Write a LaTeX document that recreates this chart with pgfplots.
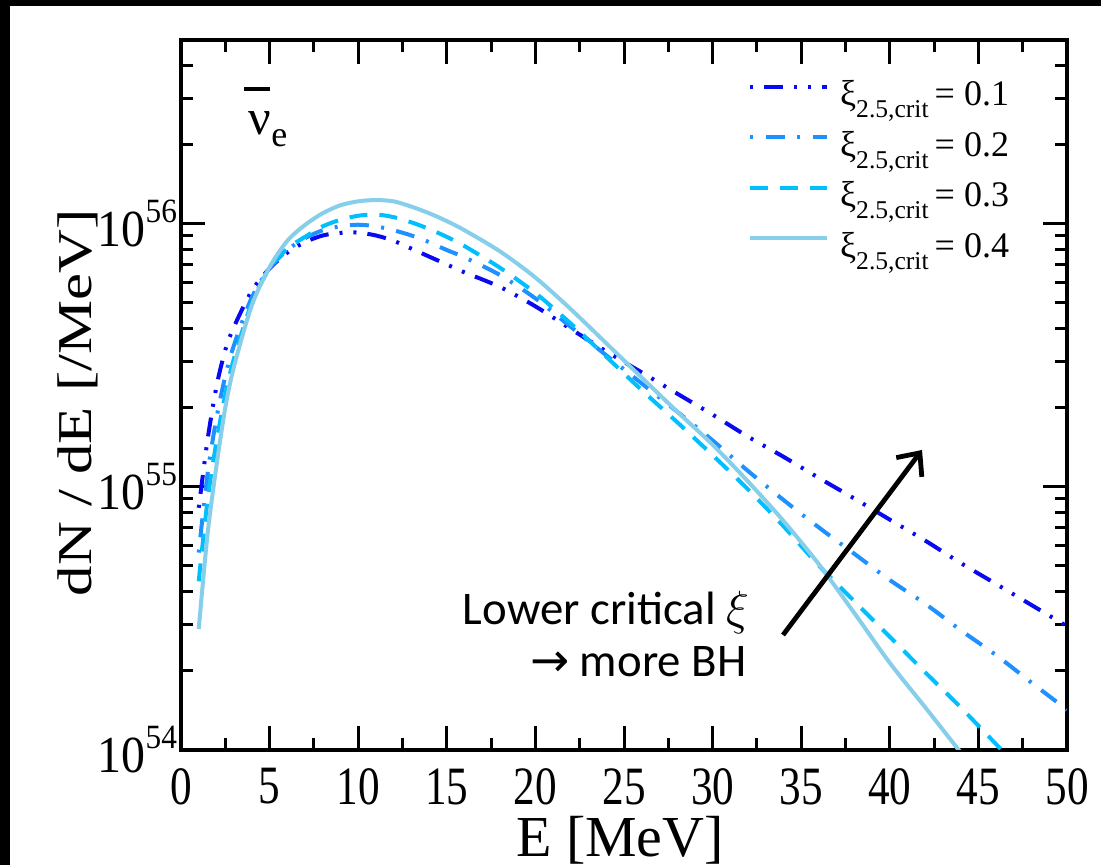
\documentclass[border=0pt]{standalone}
\usepackage{fontspec}
\setmainfont{Liberation Serif}
\newfontfamily\calibri{Carlito}
\newfontfamily\djv{DejaVu Sans}
\usepackage{graphicx}
\usepackage{pgfplots}
\pgfplotsset{compat=1.18}
\usetikzlibrary{arrows.meta}

\definecolor{c1}{RGB}{10,10,240}
\definecolor{c2}{RGB}{30,144,255}
\definecolor{c3}{RGB}{0,191,255}
\definecolor{c4}{RGB}{135,206,235}

\newcommand{\sx}[1]{\scalebox{0.8}[1]{#1}}
\newcommand{\yl}[1]{\scalebox{0.92}[1]{10\raisebox{6pt}{\fontsize{8.5}{8.5}\selectfont #1}}}
\newcommand{\lt}[1]{ξ\raisebox{-3pt}{\fontsize{6.4}{6.4}\selectfont 2.5,crit}\,= #1}

\begin{document}
\begin{tikzpicture}
\fill[black] (0,0) rectangle (275.25pt,216.25pt);
\fill[white] (2.5pt,0) rectangle (275.25pt,214.75pt);
\useasboundingbox (0,0) rectangle (275.25pt,216.25pt);
\begin{axis}[
  at={(45.25pt,28.75pt)}, anchor=south west,
  scale only axis, width=221.5pt, height=177.5pt,
  ymode=log, xmin=0, xmax=50, ymin=1e54, ymax=5e56,
  axis line style={line width=1.1pt},
  every tick/.style={line width=0.75pt, black},
  major tick length=6pt, minor tick length=3pt,
  tick align=inside,
  xtick={0,5,...,50}, minor x tick num=1,
  xticklabels={\sx{0},\sx{5},\sx{10},\sx{15},\sx{20},\sx{25},\sx{30},\sx{35},\sx{40},\sx{45},\sx{50}},
  xticklabel style={font=\fontsize{13.5}{13.5}\selectfont, anchor=north, inner sep=0pt, yshift=-4.5pt},
  ytick={1e54,1e55,1e56},
  minor ytick={2e54,3e54,4e54,5e54,6e54,7e54,8e54,9e54,2e55,3e55,4e55,5e55,6e55,7e55,8e55,9e55,2e56,3e56,4e56,5e56},
  yticklabels={\yl{54},\yl{55},\yl{56}},
  yticklabel style={font=\fontsize{13}{13}\selectfont, anchor=east, inner sep=0pt, xshift=-0.8pt},
  legend cell align=left,
  legend image code/.code={\draw[#1] (0pt,2.7pt) -- (19.25pt,2.7pt);},
  legend style={draw=none, fill=none, at={(0.949,0.957)}, anchor=north east,
    font=\fontsize{9}{9}\selectfont, row sep=3.3pt,
    nodes={inner sep=0pt, text height=6.7pt, text depth=2.6pt},
    /tikz/every odd column/.append style={column sep=2.7pt}},
]
\addplot[c1, line width=1pt, smooth, dash pattern=on 0.75pt off 2.75pt on 4.75pt off 2.75pt on 0.75pt off 2.75pt] coordinates {
(1,8.32e54)(1.5,1.51e55)(2,2.40e55)(2.5,3.31e55)(3,4.07e55)(4,5.56e55)(5,6.76e55)(6,7.76e55)(7,8.51e55)(8,9.02e55)(9,9.23e55)(10,9.25e55)(11,9.02e55)(12,8.61e55)(13,8.04e55)(14,7.50e55)(15,7.00e55)(16,6.53e55)(18,5.75e55)(20,4.85e55)(22,3.98e55)(24,3.27e55)(26,2.72e55)(28,2.26e55)(30,1.88e55)(32,1.55e55)(34,1.30e55)(36,1.08e55)(38,9.02e54)(40,7.50e54)(42,6.24e54)(44,5.13e54)(46,4.27e54)(48,3.55e54)(50,2.95e54)};
\addlegendentry{\lt{0.1}}
\addplot[c2, line width=1pt, smooth, dash pattern=on 0.75pt off 3.1pt on 4.75pt off 3.1pt] coordinates {
(1,5.62e54)(1.5,1.12e55)(2,1.82e55)(2.5,2.63e55)(3,3.47e55)(4,5.25e55)(5,6.76e55)(6,7.94e55)(7,8.81e55)(8,9.44e55)(9,9.77e55)(10,9.91e55)(11,9.77e55)(12,9.44e55)(13,9.02e55)(14,8.51e55)(15,7.94e55)(16,7.45e55)(18,6.38e55)(20,5.20e55)(22,4.05e55)(24,3.16e55)(26,2.47e55)(28,1.93e55)(30,1.50e55)(32,1.148e55)(34,8.91e54)(36,7.00e54)(38,5.56e54)(40,4.42e54)(42,3.59e54)(44,2.85e54)(46,2.29e54)(48,1.80e54)(50,1.42e54)};
\addlegendentry{\lt{0.2}}
\addplot[c3, line width=1pt, smooth, dash pattern=on 4.5pt off 3pt] coordinates {
(1,4.37e54)(1.5,8.91e54)(2,1.48e55)(2.5,2.24e55)(3,3.09e55)(4,5.01e55)(5,6.76e55)(6,8.04e55)(7,8.91e55)(8,9.77e55)(9,1.035e56)(10,1.072e56)(11,1.084e56)(12,1.059e56)(13,1.012e56)(14,9.55e55)(15,8.91e55)(16,8.22e55)(18,6.80e55)(20,5.45e55)(22,4.17e55)(24,3.12e55)(26,2.33e55)(28,1.76e55)(30,1.318e55)(32,9.77e54)(34,7.08e54)(36,5.01e54)(38,3.67e54)(40,2.69e54)(42,1.97e54)(44,1.45e54)(46,1.05e54)(47,8.91e53)};
\addlegendentry{\lt{0.3}}
\addplot[c4, line width=1pt, smooth] coordinates {
(1,2.88e54)(1.5,6.61e54)(2,1.20e55)(2.5,2.00e55)(3,2.88e55)(4,4.90e55)(5,6.84e55)(6,8.61e55)(7,9.89e55)(8,1.096e56)(9,1.175e56)(10,1.216e56)(11,1.230e56)(12,1.216e56)(13,1.161e56)(14,1.096e56)(15,1.023e56)(16,9.44e55)(18,7.85e55)(20,6.24e55)(22,4.73e55)(24,3.51e55)(26,2.60e55)(28,1.93e55)(30,1.445e55)(32,1.047e55)(34,7.41e54)(36,5.07e54)(38,3.31e54)(40,2.14e54)(42,1.45e54)(44,9.77e53)};
\addlegendentry{\lt{0.4}}
\end{axis}
% nu-bar label
\node[anchor=base west, inner sep=0pt, font=\fontsize{12.5}{12.5}\selectfont] at (62pt,182.5pt)
  {\makebox[0pt][l]{\hspace{-1.2pt}\rule[11pt]{6.5pt}{1pt}}ν\raisebox{-3pt}{\fontsize{9}{9}\selectfont e}};
% annotation
\node[anchor=base east, inner sep=0pt, font=\calibri\fontsize{11.7}{11.7}\selectfont] at (187.5pt,60pt) {Lower critical $\xi$};
\node[anchor=base east, inner sep=0pt, font=\calibri\fontsize{11.7}{11.7}\selectfont] at (186.75pt,47pt) {{\djv →} more BH};
\draw[line width=1.2pt, -{Straight Barb[length=4.5pt,width=8pt,line width=1.2pt]}] (195.75pt,57.5pt) -- (230.5pt,103.75pt);
% axis labels
\node[anchor=base, inner sep=0pt, font=\fontsize{14.5}{14.5}\selectfont] at (155pt,2pt) {E [MeV]};
\node[anchor=base, rotate=90, inner sep=0pt, font=\fontsize{15.2}{15.2}\selectfont] at (22.8pt,115.5pt) {\scalebox{1}[0.8]{dN / dE [/MeV]}};
\end{tikzpicture}
\end{document}
